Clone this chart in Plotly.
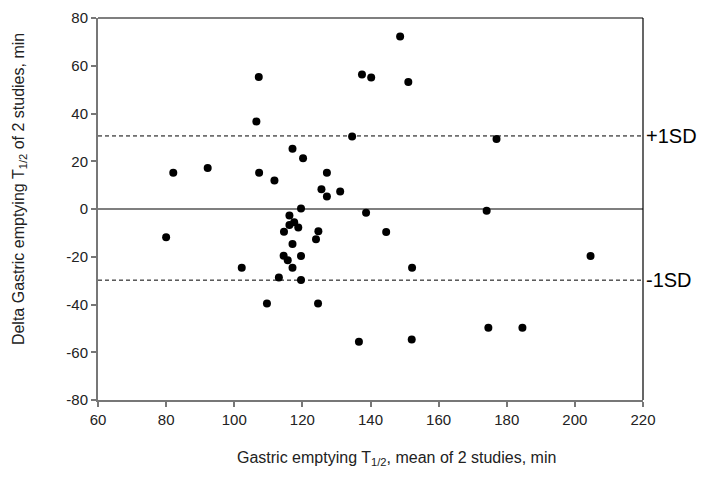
import plotly.graph_objects as go

mean_t12 = [80.0, 82.1, 92.2, 102.2, 107.2, 106.5, 107.3, 109.6, 111.8, 113.1,
            114.5, 114.6, 115.7, 116.2, 116.2, 117.1, 117.1, 117.1, 117.6, 118.8,
            119.6, 119.6, 119.6, 120.2, 124.0, 124.7, 124.6, 125.6, 127.2, 127.2,
            131.1, 134.6, 136.6, 137.5, 138.7, 140.2, 144.6, 148.7, 151.1, 152.2,
            152.1, 174.1, 174.6, 177.0, 184.6, 204.6]
delta_t12 = [-11.8, 15.2, 17.2, -24.6, 55.3, 36.7, 15.2, -39.6, 11.9, -28.7,
             -19.6, -9.5, -21.5, -2.7, -6.7, 25.2, -14.7, -24.6, -5.6, -7.8,
             0.2, -19.7, -29.7, 21.3, -12.7, -9.3, -39.6, 8.3, 15.2, 5.2,
             7.3, 30.4, -55.6, 56.3, -1.6, 55.1, -9.6, 72.3, 53.2, -24.6,
             -54.7, -0.7, -49.7, 29.3, -49.7, -19.7]
sd_upper = 30.6
sd_lower = -29.8
sd_labels = ["+1SD", "-1SD"]
x_ticks = [60, 80, 100, 120, 140, 160, 180, 200, 220]
y_ticks = [-80, -60, -40, -20, 0, 20, 40, 60, 80]
y_ticktext = [str(v) for v in y_ticks]
x_title = "Gastric emptying T<sub>1/2</sub>, mean of 2 studies, min"
y_title = "Delta Gastric emptying T<sub>1/2</sub> of 2 studies, min"

font_family = "Liberation Sans, Arial, sans-serif"

fig = go.Figure()
fig.add_trace(go.Scatter(
    x=mean_t12, y=delta_t12, mode="markers",
    marker=dict(color="black", size=8, symbol="circle"),
    showlegend=False, hoverinfo="x+y",
))

# Reference lines
fig.add_shape(type="line", xref="paper", x0=0, x1=1, yref="y", y0=0, y1=0,
              line=dict(color="black", width=1.2))
for yv in (sd_upper, sd_lower):
    fig.add_shape(type="line", xref="paper", x0=0, x1=1, yref="y", y0=yv, y1=yv,
                  line=dict(color="black", width=1, dash="4px,3px"))
# top and right frame
fig.add_shape(type="line", xref="paper", yref="paper", x0=0, x1=1, y0=1, y1=1,
              line=dict(color="black", width=1.2))
fig.add_shape(type="line", xref="paper", yref="paper", x0=1, x1=1, y0=0, y1=1,
              line=dict(color="black", width=1.2))

for lab, yv in zip(sd_labels, (sd_upper, sd_lower)):
    fig.add_annotation(x=1, xref="paper", y=yv, yref="y", text=lab,
                       showarrow=False, xanchor="left", yanchor="middle", xshift=1,
                       font=dict(family=font_family, size=20, color="black"))

# axis titles
fig.add_annotation(x=0.547, xref="paper", y=-0.152, yref="paper", text=x_title,
                   showarrow=False, xanchor="center", yanchor="middle",
                   font=dict(family=font_family, size=16, color="#222"))
fig.add_annotation(x=-0.145, xref="paper", y=0.552, yref="paper", text=y_title,
                   showarrow=False, xanchor="center", yanchor="middle", textangle=-90,
                   font=dict(family=font_family, size=16, color="#222"))

fig.update_layout(
    width=706, height=470,
    margin=dict(l=90, r=71, t=10, b=78),
    paper_bgcolor="white", plot_bgcolor="white",
    font=dict(family=font_family, size=14, color="#222"),
    xaxis=dict(
        range=[60, 220], tickvals=x_ticks, showgrid=False, zeroline=False,
        automargin=False,
        showline=True, linecolor="#777", linewidth=2,
        ticks="outside", ticklen=5, tickcolor="#777", tickwidth=1.5,
        tickfont=dict(size=15, color="#222"),
    ),
    yaxis=dict(
        range=[-80, 80], tickvals=y_ticks, ticktext=y_ticktext,
        showgrid=False, zeroline=False, automargin=False,
        showline=True, linecolor="#777", linewidth=2,
        ticks="outside", ticklen=5, tickcolor="#777", tickwidth=1.5,
        tickfont=dict(size=15, color="#222"),
    ),
)

fig.write_html("out.html")
